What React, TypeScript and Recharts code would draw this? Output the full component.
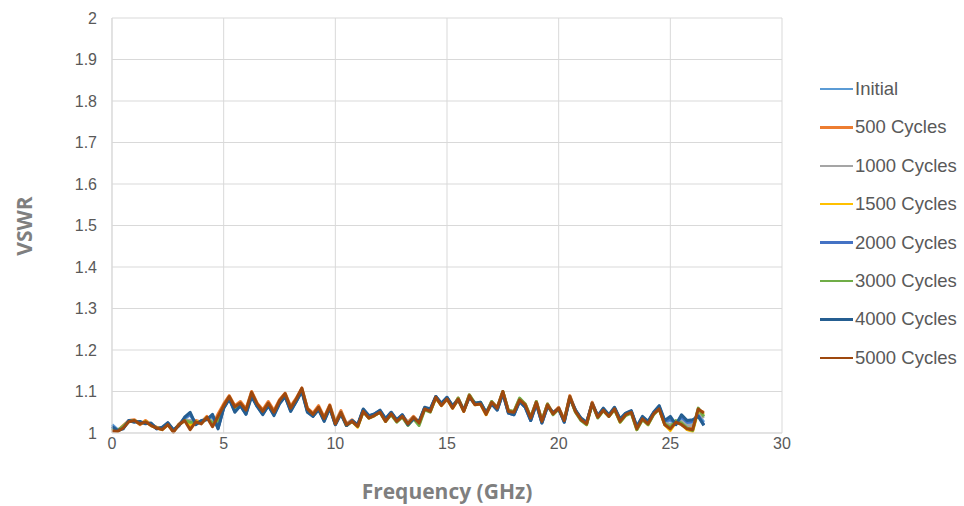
import { LineChart, Line, XAxis, YAxis, CartesianGrid, Label } from "recharts";

// sampling grid, GHz (0.25 GHz steps)
const FREQ = Array.from({ length: 107 }, (_, k) => k * 0.25);

const INITIAL = [
  1.020, 1.008, 1.012, 1.028, 1.028, 1.026, 1.024, 1.022, 1.012, 1.012,
  1.022, 1.006, 1.018, 1.034, 1.044, 1.022, 1.028, 1.034, 1.040, 1.014,
  1.062, 1.084, 1.056, 1.068, 1.050, 1.092, 1.066, 1.048, 1.068, 1.046,
  1.074, 1.090, 1.056, 1.078, 1.104, 1.054, 1.042, 1.060, 1.032, 1.062,
  1.022, 1.048, 1.020, 1.030, 1.018, 1.056, 1.040, 1.044, 1.052, 1.032,
  1.048, 1.030, 1.042, 1.022, 1.036, 1.026, 1.060, 1.056, 1.086, 1.070,
  1.084, 1.064, 1.080, 1.054, 1.088, 1.070, 1.072, 1.048, 1.072, 1.058,
  1.097, 1.050, 1.046, 1.078, 1.064, 1.032, 1.072, 1.026, 1.066, 1.048,
  1.060, 1.028, 1.086, 1.054, 1.034, 1.024, 1.072, 1.040, 1.058, 1.042,
  1.060, 1.032, 1.046, 1.052, 1.014, 1.038, 1.026, 1.048, 1.062, 1.026,
  1.030, 1.024, 1.036, 1.024, 1.026, 1.044, 1.026,
];
const C500 = [
  1.008, 1.005, 1.018, 1.030, 1.032, 1.020, 1.030, 1.020, 1.014, 1.010,
  1.024, 1.004, 1.022, 1.032, 1.012, 1.030, 1.026, 1.040, 1.018, 1.046,
  1.070, 1.090, 1.066, 1.076, 1.058, 1.100, 1.072, 1.056, 1.076, 1.054,
  1.080, 1.096, 1.064, 1.084, 1.108, 1.060, 1.048, 1.066, 1.038, 1.068,
  1.026, 1.054, 1.022, 1.032, 1.018, 1.054, 1.040, 1.044, 1.052, 1.030,
  1.048, 1.030, 1.042, 1.026, 1.040, 1.026, 1.060, 1.054, 1.088, 1.068,
  1.084, 1.062, 1.084, 1.054, 1.092, 1.070, 1.072, 1.046, 1.076, 1.062,
  1.100, 1.054, 1.052, 1.082, 1.070, 1.038, 1.076, 1.030, 1.070, 1.048,
  1.062, 1.032, 1.090, 1.054, 1.034, 1.024, 1.074, 1.040, 1.056, 1.042,
  1.060, 1.030, 1.046, 1.052, 1.012, 1.036, 1.024, 1.048, 1.060, 1.022,
  1.012, 1.028, 1.022, 1.012, 1.010, 1.056, 1.050,
];
const C1000 = [
  1.012, 1.006, 1.014, 1.028, 1.030, 1.024, 1.026, 1.020, 1.012, 1.010,
  1.022, 1.006, 1.020, 1.032, 1.030, 1.026, 1.026, 1.036, 1.028, 1.028,
  1.064, 1.086, 1.060, 1.070, 1.052, 1.095, 1.068, 1.050, 1.070, 1.048,
  1.076, 1.092, 1.058, 1.080, 1.106, 1.056, 1.044, 1.060, 1.034, 1.064,
  1.024, 1.050, 1.020, 1.030, 1.018, 1.054, 1.038, 1.044, 1.052, 1.030,
  1.048, 1.030, 1.042, 1.024, 1.038, 1.026, 1.060, 1.054, 1.086, 1.068,
  1.084, 1.062, 1.082, 1.054, 1.088, 1.070, 1.072, 1.048, 1.074, 1.060,
  1.098, 1.052, 1.048, 1.080, 1.066, 1.034, 1.074, 1.028, 1.068, 1.048,
  1.060, 1.030, 1.088, 1.054, 1.034, 1.024, 1.072, 1.040, 1.058, 1.042,
  1.060, 1.030, 1.046, 1.052, 1.012, 1.036, 1.024, 1.048, 1.060, 1.024,
  1.020, 1.024, 1.028, 1.018, 1.018, 1.050, 1.036,
];
const C1500 = [
  1.010, 1.005, 1.014, 1.028, 1.030, 1.022, 1.028, 1.018, 1.012, 1.008,
  1.020, 1.004, 1.020, 1.030, 1.020, 1.028, 1.024, 1.038, 1.022, 1.034,
  1.064, 1.086, 1.060, 1.070, 1.052, 1.094, 1.068, 1.050, 1.070, 1.046,
  1.076, 1.092, 1.058, 1.080, 1.104, 1.056, 1.042, 1.060, 1.032, 1.064,
  1.022, 1.048, 1.018, 1.028, 1.014, 1.052, 1.036, 1.042, 1.050, 1.028,
  1.046, 1.028, 1.040, 1.020, 1.036, 1.022, 1.058, 1.052, 1.084, 1.066,
  1.082, 1.060, 1.080, 1.052, 1.088, 1.068, 1.070, 1.044, 1.072, 1.058,
  1.098, 1.050, 1.048, 1.078, 1.066, 1.034, 1.072, 1.026, 1.066, 1.046,
  1.058, 1.030, 1.086, 1.052, 1.032, 1.020, 1.070, 1.038, 1.054, 1.040,
  1.058, 1.026, 1.044, 1.050, 1.008, 1.034, 1.020, 1.046, 1.058, 1.020,
  1.006, 1.026, 1.022, 1.008, 1.004, 1.054, 1.044,
];
const C2000 = [
  1.016, 1.006, 1.012, 1.030, 1.028, 1.026, 1.024, 1.022, 1.010, 1.012,
  1.024, 1.006, 1.018, 1.036, 1.046, 1.022, 1.028, 1.034, 1.042, 1.012,
  1.060, 1.082, 1.052, 1.066, 1.046, 1.090, 1.064, 1.046, 1.066, 1.044,
  1.072, 1.088, 1.054, 1.076, 1.102, 1.052, 1.040, 1.058, 1.030, 1.060,
  1.020, 1.046, 1.018, 1.030, 1.018, 1.056, 1.040, 1.046, 1.054, 1.034,
  1.050, 1.030, 1.044, 1.020, 1.034, 1.026, 1.060, 1.056, 1.088, 1.070,
  1.086, 1.064, 1.080, 1.054, 1.086, 1.070, 1.072, 1.048, 1.070, 1.056,
  1.096, 1.048, 1.044, 1.076, 1.062, 1.030, 1.070, 1.024, 1.064, 1.048,
  1.058, 1.026, 1.084, 1.054, 1.034, 1.024, 1.070, 1.040, 1.058, 1.042,
  1.060, 1.032, 1.046, 1.052, 1.014, 1.038, 1.026, 1.048, 1.064, 1.028,
  1.034, 1.022, 1.040, 1.026, 1.028, 1.042, 1.020,
];
const C3000 = [
  1.012, 1.006, 1.016, 1.028, 1.030, 1.024, 1.026, 1.020, 1.012, 1.010,
  1.022, 1.004, 1.020, 1.030, 1.026, 1.026, 1.024, 1.036, 1.024, 1.030,
  1.062, 1.084, 1.058, 1.068, 1.050, 1.094, 1.066, 1.048, 1.068, 1.046,
  1.074, 1.092, 1.056, 1.078, 1.104, 1.054, 1.042, 1.058, 1.032, 1.062,
  1.022, 1.048, 1.018, 1.028, 1.016, 1.052, 1.036, 1.042, 1.050, 1.028,
  1.044, 1.026, 1.038, 1.018, 1.034, 1.018, 1.056, 1.050, 1.086, 1.068,
  1.084, 1.062, 1.084, 1.054, 1.092, 1.072, 1.074, 1.048, 1.076, 1.060,
  1.100, 1.054, 1.052, 1.084, 1.070, 1.038, 1.076, 1.030, 1.070, 1.044,
  1.058, 1.030, 1.086, 1.050, 1.030, 1.020, 1.070, 1.036, 1.054, 1.040,
  1.056, 1.026, 1.042, 1.048, 1.008, 1.032, 1.020, 1.044, 1.058, 1.022,
  1.014, 1.030, 1.024, 1.012, 1.006, 1.060, 1.040,
];
const C4000 = [
  1.015, 1.006, 1.010, 1.030, 1.026, 1.028, 1.022, 1.024, 1.010, 1.014,
  1.025, 1.008, 1.018, 1.038, 1.050, 1.020, 1.030, 1.032, 1.045, 1.010,
  1.060, 1.082, 1.050, 1.066, 1.045, 1.088, 1.064, 1.044, 1.066, 1.042,
  1.070, 1.088, 1.052, 1.076, 1.100, 1.050, 1.040, 1.056, 1.028, 1.060,
  1.020, 1.046, 1.018, 1.030, 1.020, 1.058, 1.042, 1.046, 1.055, 1.035,
  1.050, 1.032, 1.044, 1.020, 1.034, 1.028, 1.062, 1.058, 1.088, 1.072,
  1.086, 1.066, 1.080, 1.056, 1.086, 1.072, 1.074, 1.050, 1.070, 1.055,
  1.095, 1.048, 1.044, 1.076, 1.062, 1.030, 1.070, 1.024, 1.064, 1.050,
  1.058, 1.026, 1.084, 1.056, 1.036, 1.026, 1.070, 1.042, 1.060, 1.044,
  1.062, 1.034, 1.048, 1.054, 1.016, 1.040, 1.028, 1.050, 1.066, 1.030,
  1.040, 1.020, 1.044, 1.030, 1.032, 1.040, 1.018,
];
const C5000 = [
  1.005, 1.004, 1.012, 1.027, 1.030, 1.022, 1.027, 1.018, 1.012, 1.008,
  1.020, 1.002, 1.020, 1.030, 1.008, 1.027, 1.022, 1.038, 1.015, 1.040,
  1.066, 1.088, 1.063, 1.072, 1.055, 1.098, 1.070, 1.052, 1.072, 1.050,
  1.078, 1.095, 1.060, 1.082, 1.108, 1.058, 1.045, 1.062, 1.035, 1.066,
  1.022, 1.050, 1.020, 1.028, 1.016, 1.052, 1.036, 1.042, 1.050, 1.028,
  1.046, 1.028, 1.040, 1.022, 1.038, 1.024, 1.058, 1.052, 1.086, 1.066,
  1.082, 1.060, 1.082, 1.052, 1.090, 1.068, 1.070, 1.045, 1.074, 1.060,
  1.100, 1.052, 1.050, 1.080, 1.068, 1.036, 1.074, 1.028, 1.068, 1.046,
  1.060, 1.030, 1.088, 1.052, 1.032, 1.022, 1.072, 1.038, 1.055, 1.040,
  1.058, 1.028, 1.044, 1.050, 1.010, 1.034, 1.022, 1.046, 1.058, 1.020,
  1.010, 1.026, 1.020, 1.010, 1.008, 1.058, 1.048,
];

const X_TICKS = [0, 5, 10, 15, 20, 25, 30];
const Y_TICKS = [1, 1.1, 1.2, 1.3, 1.4, 1.5, 1.6, 1.7, 1.8, 1.9, 2];

const SERIES = [
  { key: "initial", name: "Initial", values: INITIAL, color: "#5B9BD5" },
  { key: "c500", name: "500 Cycles", values: C500, color: "#ED7D31" },
  { key: "c1000", name: "1000 Cycles", values: C1000, color: "#A5A5A5" },
  { key: "c1500", name: "1500 Cycles", values: C1500, color: "#FFC000" },
  { key: "c2000", name: "2000 Cycles", values: C2000, color: "#4472C4" },
  { key: "c3000", name: "3000 Cycles", values: C3000, color: "#70AD47" },
  { key: "c4000", name: "4000 Cycles", values: C4000, color: "#255E91" },
  { key: "c5000", name: "5000 Cycles", values: C5000, color: "#9E480E" },
];

const data = FREQ.map((f, k) => {
  const row: Record<string, number> = { f };
  SERIES.forEach((s) => (row[s.key] = s.values[k]));
  return row;
});

const GRID = "#D9D9D9";
const TICK = "#595959";
const TITLE = "#7F7F7F";
const FONT = "'Liberation Sans', Arial, sans-serif";
const TITLE_FONT = "'Open Sans', sans-serif";

// legend drawn as plain html over the chart so it takes no room from the plot
function VswrLegend() {
  return (
    <div style={{ position: "absolute", left: 820, top: 78, fontFamily: FONT }}>
      {SERIES.map((s, k) => (
        <div
          key={s.key}
          style={{ position: "absolute", left: 0, top: k * 38.4, height: 22, display: "flex", alignItems: "center", whiteSpace: "nowrap" }}
        >
          <span style={{ display: "inline-block", width: 33, height: 2.5, background: s.color, marginRight: 2 }} />
          <span style={{ fontSize: 18.5, color: TICK }}>{s.name}</span>
        </div>
      ))}
    </div>
  );
}

export default function App() {
  return (
    <div style={{ position: "absolute", left: 0, top: 0, width: 964, height: 506, background: "#fff" }}>
      <LineChart width={964} height={506} data={data} margin={{ top: 18, right: 182, bottom: 0, left: 0 }}>
        <CartesianGrid stroke={GRID} strokeWidth={1} />
        <XAxis
          dataKey="f"
          type="number"
          domain={[0, 30]}
          ticks={X_TICKS}
          tick={{ fill: TICK, fontSize: 16, fontFamily: FONT }}
          axisLine={{ stroke: GRID }}
          tickLine={false}
          tickMargin={-1}
          height={73}
        >
          <Label
            content={() => (
              <text x={447} y={499} textAnchor="middle" fill={TITLE} fontSize={21} fontWeight={700} fontFamily={TITLE_FONT}>
                Frequency (GHz)
              </text>
            )}
          />
        </XAxis>
        <YAxis
          type="number"
          domain={[1, 2]}
          ticks={Y_TICKS}
          tick={{ fill: TICK, fontSize: 16, fontFamily: FONT }}
          tickFormatter={(v: number) => String(Math.round(v * 10) / 10)}
          axisLine={{ stroke: GRID }}
          tickLine={false}
          tickMargin={9}
          width={112}
        >
          <Label
            content={() => (
              <text x={32} y={226} transform="rotate(-90 32 226)" textAnchor="middle" fill={TITLE} fontSize={21} fontWeight={700} fontFamily={TITLE_FONT}>
                VSWR
              </text>
            )}
          />
        </YAxis>
        {SERIES.map((s) => (
          <Line
            key={s.key}
            type="linear"
            dataKey={s.key}
            name={s.name}
            stroke={s.color}
            strokeWidth={3}
            strokeLinejoin="round"
            dot={false}
            isAnimationActive={false}
          />
        ))}
      </LineChart>
      <VswrLegend />
    </div>
  );
}
